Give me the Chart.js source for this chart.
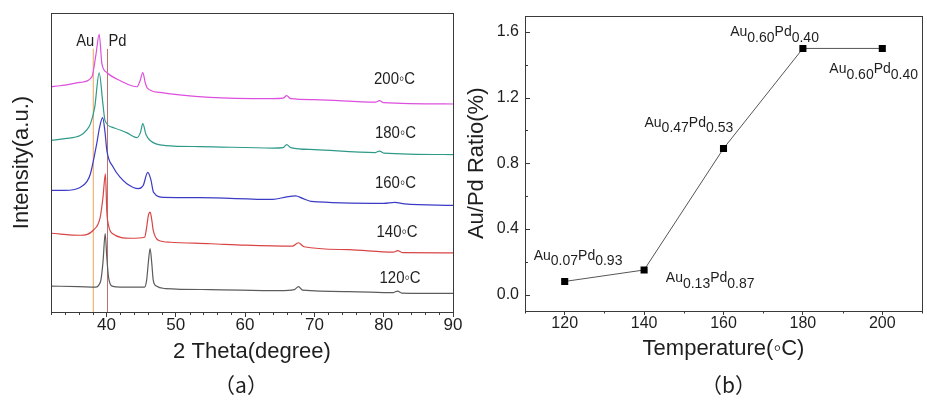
<!DOCTYPE html>
<html>
<head>
<meta charset="utf-8">
<script src="https://cdn.jsdelivr.net/npm/chart.js@4.4.0/dist/chart.umd.min.js"></script>
<style>
  body { margin: 0; background: #fff; }
  #wrap { position: relative; width: 927px; height: 401px; }
  #panelA { position: absolute; left: 0; top: 0; }
  #panelB { position: absolute; left: 463px; top: 0; }
</style>
</head>
<body>
<div id="wrap">
  <canvas id="panelA" width="465" height="401"></canvas>
  <canvas id="panelB" width="464" height="401"></canvas>
</div>
<script>
// ---- (a) XRD patterns: 2 theta (degree) vs stacked intensity (a.u.) ----
const theta120 = [32, 36, 38.5, 38.9, 39.2, 39.5, 39.82, 40.05, 40.3, 40.8, 42, 45.5, 45.8, 46.05, 46.3, 46.55, 46.75, 47.2, 48.5, 55, 65, 67.1, 67.7, 68.3, 75, 81.4, 82, 82.6, 90];
const int120 = [26, 25.5, 25, 27, 32, 50, 78.7, 55, 35, 26, 25, 25, 32, 50, 63.7, 48, 32, 26, 23.5, 22.5, 21.5, 22.5, 25.5, 22, 20.5, 19.5, 21, 19, 18.7];

const theta140 = [32, 36.2, 38.1, 39.1, 39.5, 39.85, 40.06, 40.3, 40.8, 43.5, 45.5, 45.8, 46.05, 46.3, 46.55, 46.75, 47.5, 49.2, 55, 60, 66.8, 67.7, 68.5, 75, 81.4, 82, 82.8, 90];
const int140 = [79, 77, 82, 95, 115, 138.7, 100, 87, 79, 74, 75, 85, 97, 100.3, 92, 82, 72, 70, 68.5, 67, 66, 69.5, 65.5, 62.5, 60, 61.5, 59.5, 59.3];

const theta160 = [32, 34, 36.2, 37.2, 37.7, 38.6, 39.0, 39.45, 39.8, 40.06, 41, 42, 42.9, 44.6, 45.3, 45.96, 46.4, 46.8, 48.3, 53.5, 64, 66, 67.3, 68.3, 69.5, 80, 81.6, 83, 90];
const int160 = [122, 122, 125, 131, 139, 169, 185, 195, 180, 162, 145, 135, 129, 123.7, 127, 140, 133, 120, 115, 114.7, 113, 115.5, 116.5, 114, 111, 109, 110, 108.5, 107];

const theta180 = [32, 34, 36.2, 37.2, 37.7, 38.3, 38.95, 39.5, 39.8, 41, 42.9, 44.4, 44.9, 45.25, 45.7, 46.3, 48.5, 53.5, 64, 65.5, 66, 66.6, 70, 78.8, 79.4, 80, 90];
const int180 = [172, 174, 177, 183, 189, 205, 240, 208, 192, 185, 180, 175, 180, 189, 178, 172, 167, 166, 164.5, 165, 168, 165, 163, 160, 161.5, 159.5, 158];

const theta200 = [32, 33.3, 36.2, 37.9, 38.5, 38.95, 39.35, 40.06, 42, 44.4, 44.85, 45.25, 45.6, 45.9, 47.7, 54.9, 64, 65.5, 66, 66.6, 70, 78.8, 79.4, 80, 90];
const int200 = [226, 227, 230.3, 236, 259, 278.7, 249, 240.3, 232, 226, 232, 240.3, 230, 224.7, 220.3, 215.3, 214, 214.5, 217, 214, 213, 210.5, 212, 210, 208.7];

const sampleTemps = ['120\u25E6C', '140\u25E6C', '160\u25E6C', '180\u25E6C', '200\u25E6C'];
const refNames = ['Au', 'Pd'];
const refTheta = [38.1, 40.15];
const refTop = 264;
const thetaTicks = [40, 50, 60, 70, 80, 90];

// ---- (b) Au/Pd ratio vs temperature ----
const tempsB = [120, 140, 160, 180, 200];
const ratioB = [0.08, 0.15, 0.89, 1.50, 1.50];
const compAu = ['0.07', '0.13', '0.47', '0.60', '0.60'];
const compPd = ['0.93', '0.87', '0.53', '0.40', '0.40'];
const tempTicks = [120, 140, 160, 180, 200];
const ratioTicks = [0.0, 0.4, 0.8, 1.2, 1.6];

const FONT = '"Liberation Sans", Arial, sans-serif';
const CJK = '"Noto Sans CJK SC", "Liberation Sans", sans-serif';
const INK = '#1e1e1e';
const AXIS = '#3a3a3a';

function steps(from, to, step, skip) {
  const out = [];
  for (let v = from; v <= to + 1e-9; v += step) {
    const r = Math.round(v * 100) / 100;
    if (!skip.some(s => Math.abs(s - r) < 1e-6)) out.push(r);
  }
  return out;
}

// Frame round the plot area plus extra tick marks
const framePlugin = {
  id: 'frame',
  afterDraw(chart, args, opts) {
    const { ctx, chartArea: a } = chart;
    ctx.save();
    ctx.strokeStyle = AXIS;
    ctx.lineWidth = 1;
    ctx.strokeRect(Math.round(a.left) + 0.5, Math.round(a.top) + 0.5,
      Math.round(a.right - a.left), Math.round(a.bottom - a.top));
    (opts.marks || []).forEach(m => {
      const s = chart.scales[m.axis];
      m.values.forEach(v => {
        const p = Math.round(s.getPixelForValue(v)) + 0.5;
        ctx.beginPath();
        if (s.isHorizontal()) {
          ctx.moveTo(p, Math.round(a.bottom));
          ctx.lineTo(p, Math.round(a.bottom) + m.len);
        } else {
          ctx.moveTo(Math.round(a.left), p);
          ctx.lineTo(Math.round(a.left) + m.len, p);
        }
        ctx.stroke();
      });
    });
    ctx.restore();
  }
};

function narrowText(ctx, text, x, y, sx) {
  ctx.save();
  ctx.translate(x, y);
  ctx.scale(sx, 1);
  ctx.fillText(text, 0, 0);
  ctx.restore();
}

const labelsA = {
  id: 'labelsA',
  afterDraw(chart) {
    const { ctx, chartArea: a, scales: { x, y } } = chart;
    const tx = [82.36, 81.93, 81.7, 81.7, 81.57];
    const ty = [34, 80, 129, 179, 233];
    ctx.save();
    ctx.fillStyle = INK;
    ctx.textBaseline = 'middle';
    ctx.textAlign = 'center';
    ctx.font = '17px ' + FONT;
    sampleTemps.forEach((t, i) => narrowText(ctx, t, x.getPixelForValue(tx[i]), y.getPixelForValue(ty[i]), 0.88));
    const ly = y.getPixelForValue(271);
    ctx.font = '16px ' + FONT;
    ctx.textAlign = 'right';
    narrowText(ctx, refNames[0], x.getPixelForValue(refTheta[0]) + 1, ly, 0.92);
    ctx.textAlign = 'left';
    narrowText(ctx, refNames[1], x.getPixelForValue(refTheta[1]) + 1, ly, 0.92);
    ctx.textAlign = 'center';
    ctx.textBaseline = 'alphabetic';
    ctx.font = '21px ' + CJK;
    ctx.fillText('\uFF08a\uFF09', (a.left + a.right) / 2 - 11, 393);
    ctx.restore();
  }
};

const labelsB = {
  id: 'labelsB',
  afterDraw(chart) {
    const { ctx, chartArea: a } = chart;
    const pts = chart.getDatasetMeta(0).data;
    const offs = [[-31, -21.7], [21.7, 12.4], [-79, -22], [-72.7, -12], [-53, 24.7]];
    ctx.save();
    ctx.fillStyle = INK;
    ctx.textBaseline = 'alphabetic';
    ctx.textAlign = 'left';
    ctx.font = '14px ' + FONT;
    pts.forEach((p, i) => {
      let x = p.x + offs[i][0];
      const b = p.y + offs[i][1];
      const parts = [['Au', 0], [compAu[i], 5.5], ['Pd', 0], [compPd[i], 5.5]];
      parts.forEach(([t, dy]) => {
        ctx.fillText(t, x, b + dy);
        x += ctx.measureText(t).width;
      });
    });
    ctx.textAlign = 'center';
    ctx.font = '21px ' + CJK;
    ctx.fillText('\uFF08b\uFF09', (a.left + a.right) / 2 + 5, 393);
    ctx.restore();
  }
};

function curve(xs, ys, color) {
  return {
    data: xs.map((x, i) => ({ x, y: ys[i] })),
    borderColor: color,
    borderWidth: 1.2,
    pointRadius: 0,
    cubicInterpolationMode: 'monotone',
    fill: false
  };
}

const refColors = ['#eaa55c', '#b9746c'];

new Chart(document.getElementById('panelA'), {
  type: 'line',
  data: {
    datasets: [
      curve(theta120, int120, '#5c5c5c'),
      curve(theta140, int140, '#d94545'),
      curve(theta160, int160, '#3b3bc6'),
      curve(theta180, int180, '#2f9a8a'),
      curve(theta200, int200, '#dd4fdd'),
      ...refTheta.map((t, i) => ({
        data: [{ x: t, y: 0 }, { x: t, y: refTop }],
        borderColor: refColors[i], borderWidth: 1, pointRadius: 0
      }))
    ]
  },
  options: {
    responsive: false,
    animation: false,
    layout: { padding: { left: 6, top: 13, right: 12, bottom: 32 } },
    plugins: {
      legend: { display: false },
      tooltip: { enabled: false },
      frame: { marks: [{ axis: 'x', values: steps(32, 90, 2, thetaTicks), len: 3 }] }
    },
    scales: {
      x: {
        type: 'linear', min: 32, max: 90,
        afterBuildTicks: s => { s.ticks = thetaTicks.map(v => ({ value: v })); },
        afterFit: s => { s.height = 57; },
        grid: { drawOnChartArea: false, tickLength: 5, color: AXIS },
        border: { display: false },
        ticks: { font: { family: FONT, size: 17, lineHeight: 1 }, color: INK, padding: 0, maxRotation: 0 },
        title: { display: true, text: '2 Theta(degree)', font: { family: FONT, size: 22 }, color: INK, padding: { top: 0, bottom: 4 } }
      },
      y: {
        min: 0, max: 300,
        afterFit: s => { s.width = 45; },
        grid: { display: false },
        border: { display: false },
        ticks: { display: false },
        title: { display: true, text: 'Intensity(a.u.)', font: { family: FONT, size: 22 }, color: INK, padding: { top: 3, bottom: 0 } }
      }
    }
  },
  plugins: [framePlugin, labelsA]
});

new Chart(document.getElementById('panelB'), {
  type: 'line',
  data: {
    datasets: [{
      data: tempsB.map((t, i) => ({ x: t, y: ratioB[i] })),
      borderColor: '#555',
      borderWidth: 1,
      tension: 0,
      pointStyle: 'rect',
      pointRadius: 5,
      pointBackgroundColor: '#000',
      pointBorderColor: '#000',
      pointBorderWidth: 0
    }]
  },
  options: {
    responsive: false,
    animation: false,
    layout: { padding: { left: 0, top: 13, right: 2, bottom: 35 } },
    plugins: {
      legend: { display: false },
      tooltip: { enabled: false },
      frame: {
        marks: [
          { axis: 'x', values: steps(110, 210, 10, tempTicks), len: 2.5 },
          { axis: 'y', values: ratioTicks, len: 5 },
          { axis: 'y', values: [0.2, 0.6, 1.0, 1.4], len: 3 }
        ]
      }
    },
    scales: {
      x: {
        type: 'linear', min: 110, max: 210,
        afterBuildTicks: s => { s.ticks = tempTicks.map(v => ({ value: v })); },
        afterFit: s => { s.height = 55; },
        grid: { drawOnChartArea: false, tickLength: 4, color: AXIS },
        border: { display: false },
        ticks: { font: { family: FONT, size: 16, lineHeight: 1 }, color: INK, padding: 1, maxRotation: 0 },
        title: { display: true, text: 'Temperature(\u25E6C)', font: { family: FONT, size: 22 }, color: INK, padding: { top: 0, bottom: 4 } }
      },
      y: {
        min: -0.1, max: 1.7,
        afterBuildTicks: s => { s.ticks = ratioTicks.map(v => ({ value: v })); },
        afterFit: s => { s.width = 62; },
        grid: { drawOnChartArea: false, drawTicks: false },
        border: { display: false },
        ticks: { font: { family: FONT, size: 16 }, color: INK, padding: 6, callback: v => Number(v).toFixed(1) },
        title: { display: true, text: 'Au/Pd Ratio(%)', font: { family: FONT, size: 22 }, color: INK, padding: { top: 1, bottom: 0 } }
      }
    }
  },
  plugins: [framePlugin, labelsB]
});
</script>
</body>
</html>
